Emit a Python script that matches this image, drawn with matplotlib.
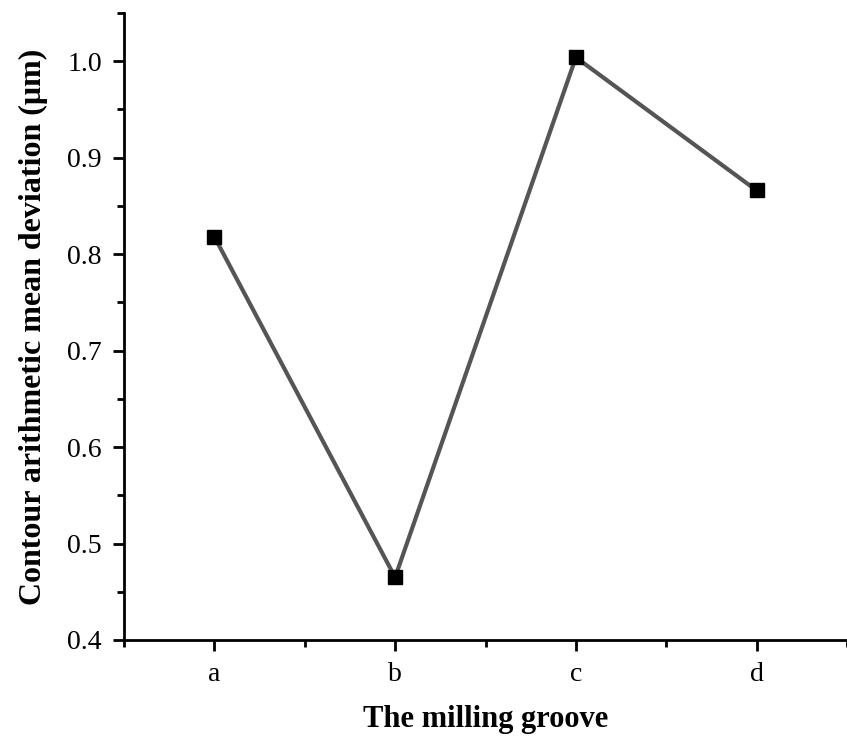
import matplotlib
matplotlib.use('Agg')
import matplotlib.pyplot as plt
from matplotlib.ticker import MultipleLocator

grooves = ['a', 'b', 'c', 'd']
deviation = [0.818, 0.465, 1.004, 0.866]

plt.rcParams['font.family'] = 'Liberation Serif'

fig = plt.figure(figsize=(8.47, 7.38), dpi=100)
ax = fig.add_axes([0.1464, 0.1328, 0.8536, 0.8496])

x = list(range(1, len(grooves) + 1))
ax.plot(x, deviation, color='#555555', linewidth=3, marker='s', markersize=10,
        markerfacecolor='black', markeredgecolor='black', zorder=3)

ax.set_xlim(0.5, 4.5)
ax.set_ylim(0.4, 1.05)
ax.set_xticks(x)
ax.set_xticklabels(grooves)
ax.xaxis.set_minor_locator(MultipleLocator(0.5))
ax.yaxis.set_major_locator(MultipleLocator(0.1))
ax.yaxis.set_minor_locator(MultipleLocator(0.05))

for side in ['top', 'right']:
    ax.spines[side].set_visible(False)
for side in ['left', 'bottom']:
    ax.spines[side].set_linewidth(2)

ax.tick_params(which='major', direction='out', length=8, width=2, labelsize=20, pad=8)
ax.tick_params(which='minor', direction='out', length=5, width=2)

ax.set_xlabel('The milling groove', fontsize=22, fontweight='bold', labelpad=13)
ax.set_ylabel('Contour arithmetic mean deviation (μm)', fontsize=23, fontweight='bold', labelpad=14)

fig.savefig('out.png', dpi=100)
